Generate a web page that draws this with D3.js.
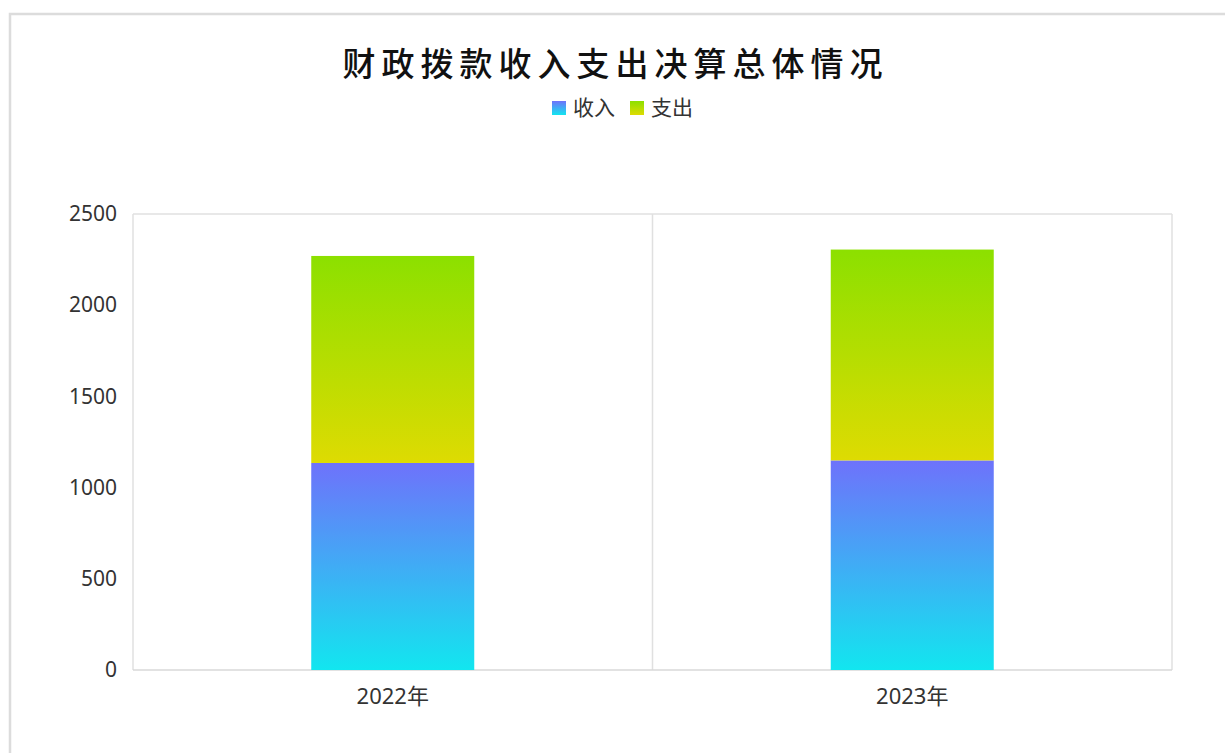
<!DOCTYPE html>
<html><head><meta charset="utf-8">
<script src="https://cdn.jsdelivr.net/npm/d3@7/dist/d3.min.js"></script>
<style>
html,body{margin:0;padding:0;background:#fff;}
svg{display:block;font-family:"Noto Sans CJK SC","Noto Sans",sans-serif;}
</style></head>
<body><svg id="c" width="1225" height="753"></svg>
<script>
const categories = ["2022年", "2023年"];
const seriesNames = ["收入", "支出"];
const income = [1135, 1149];
const expense = [1135, 1156];
const yTicks = [0, 500, 1000, 1500, 2000, 2500];
const title = "财政拨款收入支出决算总体情况";

const svg = d3.select("#c");
const m = {left:133, right:1172, top:214, bottom:670};

// outer frame
svg.append("rect").attr("x",10).attr("y",14).attr("width",1240).attr("height",760)
  .attr("fill","none").attr("stroke","#dcdcdc").attr("stroke-width",2.5);

const defs = svg.append("defs");
function grad(id, top, bottom){
  const g = defs.append("linearGradient").attr("id",id).attr("x1",0).attr("y1",0).attr("x2",0).attr("y2",1);
  g.append("stop").attr("offset","0%").attr("stop-color",top);
  g.append("stop").attr("offset","100%").attr("stop-color",bottom);
}
grad("gIncome","#6e72fb","#12e6ef");
grad("gExpense","#8ce000","#dedb02");

const x = d3.scaleBand().domain(categories).range([m.left,m.right]).paddingInner(0).paddingOuter(0);
const y = d3.scaleLinear().domain([0,2500]).range([m.bottom,m.top]);

// frame lines
const g = svg.append("g");
g.append("line").attr("x1",m.left).attr("x2",m.right).attr("y1",y(2500)).attr("y2",y(2500))
  .attr("stroke","#e0e0e0").attr("stroke-width",1.5);
const bounds = [m.left, ...categories.map(c=>x(c)+x.bandwidth())];
g.selectAll("line.v").data(bounds).enter().append("line").attr("class","v")
  .attr("x1",d=>d).attr("x2",d=>d).attr("y1",y(2500)).attr("y2",y(0))
  .attr("stroke","#e0e0e0").attr("stroke-width",1.5);
g.append("line").attr("x1",m.left).attr("x2",m.right).attr("y1",y(0)).attr("y2",y(0))
  .attr("stroke","#d9d9d9").attr("stroke-width",1.5);

// y axis labels
const ya = d3.axisLeft(y).tickValues(yTicks).tickFormat(d3.format("d")).tickSize(0).tickPadding(16);
const yg = svg.append("g").attr("transform",`translate(${m.left},0)`).call(ya);
yg.select(".domain").remove();
yg.selectAll("text").attr("font-size",21).attr("fill","#333").attr("font-family","'Noto Sans','Noto Sans CJK SC',sans-serif");

// x axis labels
const xa = d3.axisBottom(x).tickSize(0).tickPadding(18);
const xg = svg.append("g").attr("transform",`translate(0,${m.bottom})`).call(xa);
xg.select(".domain").remove();
xg.selectAll("text").attr("font-size",22).attr("fill","#333").attr("font-family","'Noto Sans','Noto Sans CJK SC',sans-serif");

// bars
const bw = 163;
const data = categories.map((c,i)=>({c, inc:income[i], exp:expense[i]}));
svg.selectAll("rect.inc").data(data).enter().append("rect").attr("class","inc")
  .attr("x",d=>x(d.c)+x.bandwidth()/2-bw/2).attr("width",bw)
  .attr("y",d=>y(d.inc)).attr("height",d=>y(0)-y(d.inc)).attr("fill","url(#gIncome)");
svg.selectAll("rect.exp").data(data).enter().append("rect").attr("class","exp")
  .attr("x",d=>x(d.c)+x.bandwidth()/2-bw/2).attr("width",bw)
  .attr("y",d=>y(d.inc+d.exp)).attr("height",d=>y(d.inc)-y(d.inc+d.exp)).attr("fill","url(#gExpense)");

// title
svg.append("text").attr("x",615.5).attr("y",76).attr("text-anchor","middle")
  .attr("font-size",33).attr("font-weight",500).attr("letter-spacing",6).attr("fill","#111").text(title);

// legend
const leg = svg.append("g");
const items = [{n:seriesNames[0],f:"url(#gIncome)",x:552},{n:seriesNames[1],f:"url(#gExpense)",x:630}];
items.forEach(it=>{
  leg.append("rect").attr("x",it.x).attr("y",101).attr("width",14).attr("height",14).attr("fill",it.f);
  leg.append("text").attr("x",it.x+21).attr("y",115).attr("font-size",21).attr("fill","#333").text(it.n);
});
</script></body></html>
